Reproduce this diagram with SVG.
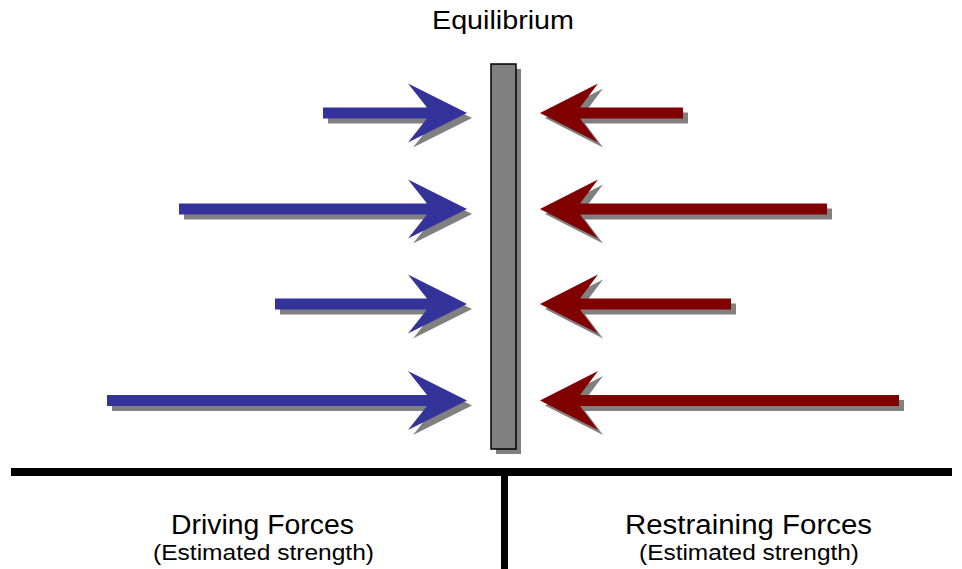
<svg xmlns="http://www.w3.org/2000/svg" width="962" height="569" viewBox="0 0 962 569">
<style>
.shadow{fill:#808080}
.drive{fill:#333399}
.restrain{fill:#800000}
.t{font-family:"Liberation Sans",Arial,sans-serif;fill:#000;text-anchor:middle}
.big{font-size:27px}
.small{font-size:22.5px}
</style>
<rect width="962" height="569" fill="#fff"/>
<g id="equilibrium">
<rect x="496" y="69" width="25" height="385" class="shadow"/>
<rect x="491" y="64" width="25" height="385" fill="#808080" stroke="#000" stroke-width="1.5"/>
<text class="t" style="font-size:25.5px" x="503" y="29" textLength="142" lengthAdjust="spacingAndGlyphs">Equilibrium</text>
</g>
<g id="driving-forces">
<g id="drive1">
<path class="shadow" transform="translate(5,5)" d="M323,107.5 H427 L408,83.5 L467,113 L408,142.5 L427,118.5 H323 Z"/>
<path class="drive" d="M323,107.5 H427 L408,83.5 L467,113 L408,142.5 L427,118.5 H323 Z"/>
</g>
<g id="drive2">
<path class="shadow" transform="translate(5,5)" d="M179,203.5 H427 L408,179.5 L467,209 L408,238.5 L427,214.5 H179 Z"/>
<path class="drive" d="M179,203.5 H427 L408,179.5 L467,209 L408,238.5 L427,214.5 H179 Z"/>
</g>
<g id="drive3">
<path class="shadow" transform="translate(5,5)" d="M275,298.5 H427 L408,274.5 L467,304 L408,333.5 L427,309.5 H275 Z"/>
<path class="drive" d="M275,298.5 H427 L408,274.5 L467,304 L408,333.5 L427,309.5 H275 Z"/>
</g>
<g id="drive4">
<path class="shadow" transform="translate(5,5)" d="M107,395 H427 L408,371 L467,400.5 L408,430 L427,406 H107 Z"/>
<path class="drive" d="M107,395 H427 L408,371 L467,400.5 L408,430 L427,406 H107 Z"/>
</g>
</g>
<g id="restraining-forces">
<g id="restrain1">
<path class="shadow" transform="translate(5,5)" d="M683,107.5 H580 L598,83.5 L540,113 L598,142.5 L580,118.5 H683 Z"/>
<path class="restrain" d="M683,107.5 H580 L598,83.5 L540,113 L598,142.5 L580,118.5 H683 Z"/>
</g>
<g id="restrain2">
<path class="shadow" transform="translate(5,5)" d="M827,203.5 H580 L598,179.5 L540,209 L598,238.5 L580,214.5 H827 Z"/>
<path class="restrain" d="M827,203.5 H580 L598,179.5 L540,209 L598,238.5 L580,214.5 H827 Z"/>
</g>
<g id="restrain3">
<path class="shadow" transform="translate(5,5)" d="M731,298.5 H580 L598,274.5 L540,304 L598,333.5 L580,309.5 H731 Z"/>
<path class="restrain" d="M731,298.5 H580 L598,274.5 L540,304 L598,333.5 L580,309.5 H731 Z"/>
</g>
<g id="restrain4">
<path class="shadow" transform="translate(5,5)" d="M899,395 H580 L598,371 L540,400.5 L598,430 L580,406 H899 Z"/>
<path class="restrain" d="M899,395 H580 L598,371 L540,400.5 L598,430 L580,406 H899 Z"/>
</g>
</g>
<g id="table">
<rect x="11" y="468" width="941" height="8" fill="#000"/>
<rect x="501" y="476" width="7" height="93" fill="#000"/>
</g>
<g id="label-driving">
<text class="t big" x="262.5" y="534" textLength="183" lengthAdjust="spacingAndGlyphs">Driving Forces</text>
<text class="t small" x="263.5" y="560" textLength="221" lengthAdjust="spacingAndGlyphs">(Estimated strength)</text>
</g>
<g id="label-restraining">
<text class="t big" x="748.5" y="534" textLength="247" lengthAdjust="spacingAndGlyphs">Restraining Forces</text>
<text class="t small" x="749" y="560" textLength="220" lengthAdjust="spacingAndGlyphs">(Estimated strength)</text>
</g>
</svg>
